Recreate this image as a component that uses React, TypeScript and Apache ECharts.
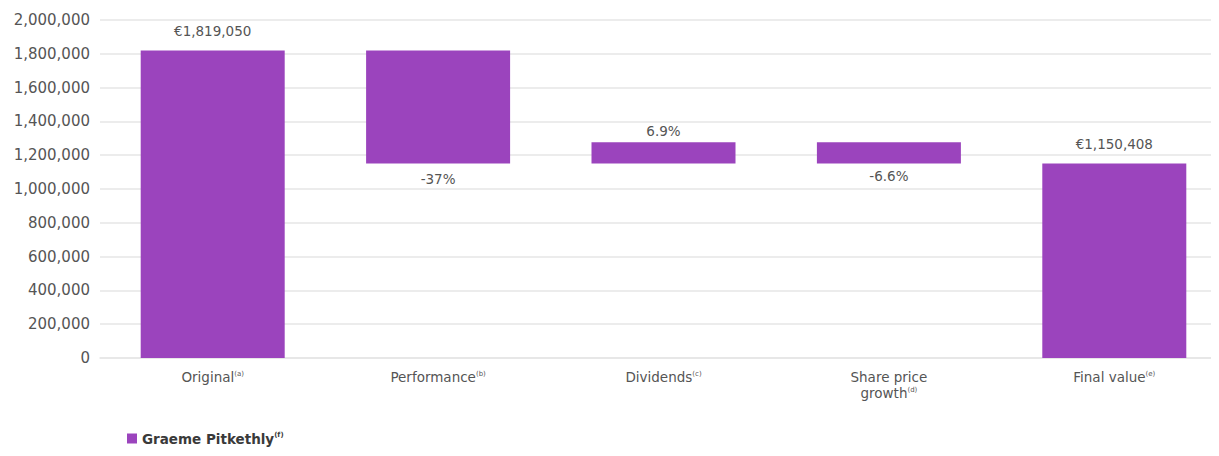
import React, { useEffect, useRef } from "react";
import * as echarts from "echarts";

const categories = ["Original", "Performance", "Dividends", "Share price\ngrowth", "Final value"];
const footnotes = ["(a)", "(b)", "(c)", "(d)", "(e)"];
const baseValues = [0, 1150408, 1150408, 1150408, 0];
const barValues = [1819050, 668642, 125500, 125500, 1150408];
const barLabels = ["€1,819,050", "-37%", "6.9%", "-6.6%", "€1,150,408"];
const labelPositions = ["top", "bottom", "top", "bottom", "top"];
const labelDistances = [13, 8, 4, 5, 13];
const yTicks = { min: 0, max: 2000000, interval: 200000 };
const seriesName = "Graeme Pitkethly";
const legendFootnote = "(f)";

const FONT = "'DejaVu Sans', 'Noto Sans', sans-serif";
const PURPLE = "#9b44bd";
const TEXT = "#555555";

export default function App() {
  const ref = useRef<HTMLDivElement>(null);
  useEffect(() => {
    if (!ref.current) return;
    const chart = echarts.init(ref.current, undefined, { renderer: "svg" });
    chart.setOption({
      animation: false,
      textStyle: { fontFamily: FONT },
      grid: { left: 100, right: 0, top: 20, bottom: 98, containLabel: false },
      legend: {
        data: [seriesName],
        left: 122,
        top: 426,
        itemWidth: 10,
        itemHeight: 10,
        itemGap: 8,
        icon: "rect",
        formatter: (n: string) => `{n|${n}}{s|${legendFootnote}}`,
        textStyle: {
          rich: {
            n: { fontFamily: FONT, fontSize: 13.5, fontWeight: "bold", color: "#3a3a3a", lineHeight: 18 },
            s: { fontFamily: FONT, fontSize: 7, fontWeight: "bold", color: "#3a3a3a", padding: [0, 0, 8, 0], lineHeight: 18 },
          },
        },
      },
      xAxis: {
        type: "category",
        data: categories,
        axisLine: { show: true, lineStyle: { color: "#e6e6e6", width: 1.5 } },
        axisTick: { show: false },
        axisLabel: {
          margin: 11,
          interval: 0,
          formatter: (v: string, i: number) => {
            const lines = v.split("\n");
            const last = lines.pop();
            const pre = lines.map((l) => `{n|${l}}`).join("\n");
            return (pre ? pre + "\n" : "") + `{n|${last}}{s|${footnotes[i]}}`;
          },
          rich: {
            n: { fontFamily: FONT, fontSize: 13.5, color: TEXT, lineHeight: 16 },
            s: { fontFamily: FONT, fontSize: 7, color: TEXT, padding: [0, 0, 7, 0], lineHeight: 16 },
          },
        },
      },
      yAxis: {
        type: "value",
        min: yTicks.min,
        max: yTicks.max,
        interval: yTicks.interval,
        axisLine: { show: false },
        axisTick: { show: false },
        splitLine: { lineStyle: { color: "#e6e6e6", width: 1.5 } },
        axisLabel: {
          margin: 10,
          fontFamily: FONT,
          fontSize: 15,
          color: TEXT,
          formatter: (v: number) => v.toLocaleString("en-US"),
        },
      },
      series: [
        {
          type: "bar",
          name: "base",
          stack: "w",
          data: baseValues,
          barWidth: 144,
          itemStyle: { color: "transparent" },
          emphasis: { disabled: true },
          silent: true,
        },
        {
          type: "bar",
          name: seriesName,
          stack: "w",
          barWidth: 144,
          itemStyle: { color: PURPLE },
          data: barValues.map((v, i) => ({
            value: v,
            label: {
              show: true,
              position: labelPositions[i],
              distance: labelDistances[i],
              formatter: barLabels[i],
              fontFamily: FONT,
              fontSize: 13.5,
              color: TEXT,
            },
          })),
        },
      ],
    });
    return () => chart.dispose();
  }, []);
  return (
    <div style={{ width: 1219, height: 456, margin: -8, overflow: "hidden", position: "relative" }}>
      <div ref={ref} style={{ width: 1227, height: 456 }} />
    </div>
  );
}
